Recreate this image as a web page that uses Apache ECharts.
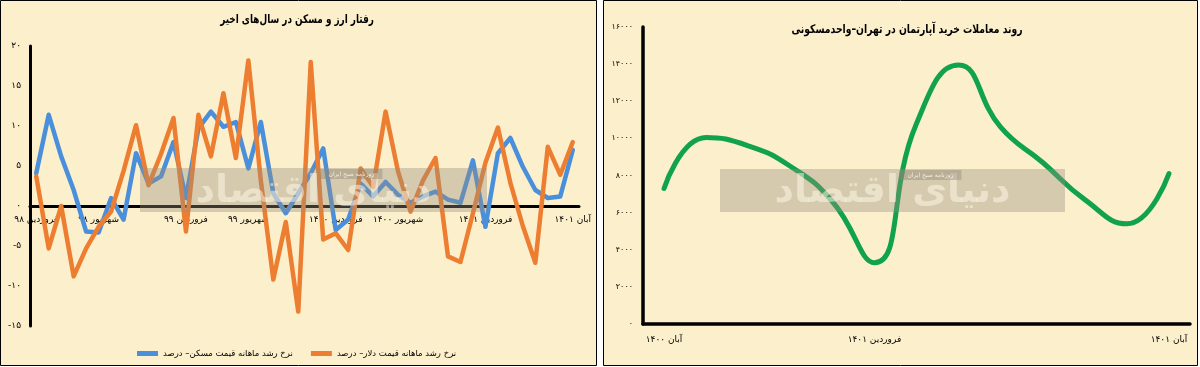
<!DOCTYPE html>
<html><head><meta charset="utf-8">
<script src="https://cdn.jsdelivr.net/npm/echarts@6/dist/echarts.min.js"></script>
<style>html,body{margin:0;padding:0;background:#fff}#c{width:1200px;height:367px}</style>
</head><body><div id="c"></div>
<script>
// ---------- Left chart data ----------
const leftCategories = [
  'فروردین ۹۸','اردیبهشت ۹۸','خرداد ۹۸','تیر ۹۸','مرداد ۹۸','شهریور ۹۸','مهر ۹۸','آبان ۹۸','آذر ۹۸','دی ۹۸','بهمن ۹۸','اسفند ۹۸',
  'فروردین ۹۹','اردیبهشت ۹۹','خرداد ۹۹','تیر ۹۹','مرداد ۹۹','شهریور ۹۹','مهر ۹۹','آبان ۹۹','آذر ۹۹','دی ۹۹','بهمن ۹۹','اسفند ۹۹',
  'فروردین ۱۴۰۰','اردیبهشت ۱۴۰۰','خرداد ۱۴۰۰','تیر ۱۴۰۰','مرداد ۱۴۰۰','شهریور ۱۴۰۰','مهر ۱۴۰۰','آبان ۱۴۰۰','آذر ۱۴۰۰','دی ۱۴۰۰','بهمن ۱۴۰۰','اسفند ۱۴۰۰',
  'فروردین ۱۴۰۱','اردیبهشت ۱۴۰۱','خرداد ۱۴۰۱','تیر ۱۴۰۱','مرداد ۱۴۰۱','شهریور ۱۴۰۱','مهر ۱۴۰۱','آبان ۱۴۰۱'
];
const housingGrowth = [
  4.1, 11.4, 6.2, 2.0, -3.2, -3.3, 1.0, -1.7, 6.6, 2.8, 3.7, 8.0,
  1.0, 9.7, 11.8, 9.9, 10.5, 4.7, 10.5, 1.6, -0.9, 1.6, 4.1, 7.2,
  -3.0, -1.7, 2.8, 1.2, 3.0, 1.4, 0.4, 1.2, 1.8, 0.8, 0.4, 5.7,
  -2.6, 6.6, 8.5, 4.9, 2.0, 1.0, 1.2, 7.0
];
const dollarGrowth = [
  3.7, -5.3, 0.0, -8.8, -5.3, -2.6, -0.7, 4.4, 10.1, 2.6, 6.5, 11.0,
  -3.2, 11.4, 6.2, 14.1, 6.0, 18.2, 3.2, -9.2, -2.0, -13.2, 18.0, -4.2,
  -3.4, -5.5, 4.7, 2.4, 11.8, 4.3, -0.7, 3.2, 6.0, -6.3, -7.0, -0.9,
  5.4, 9.8, 2.9, -2.5, -7.1, 7.4, 3.9, 8.0
];
const leftLabelIdx = [0, 5, 12, 17, 24, 29, 36, 43];
const leftYTicks = [-15, -10, -5, 0, 5, 10, 15, 20];
const leftYTickLabels = ['-۱۵', '-۱۰', '-۵', '۰', '۵', '۱۰', '۱۵', '۲۰'];
const housingName = 'نرخ رشد ماهانه قیمت مسکن– درصد';
const dollarName = 'نرخ رشد ماهانه قیمت دلار– درصد';
const leftTitle = 'رفتار ارز و مسکن در سال‌های اخیر';

// ---------- Right chart data ----------
const rightCategories = [
  'آبان ۱۴۰۰','آذر ۱۴۰۰','دی ۱۴۰۰','بهمن ۱۴۰۰','اسفند ۱۴۰۰',
  'فروردین ۱۴۰۱','اردیبهشت ۱۴۰۱','خرداد ۱۴۰۱','تیر ۱۴۰۱','مرداد ۱۴۰۱','شهریور ۱۴۰۱','مهر ۱۴۰۱','آبان ۱۴۰۱'
];
const transactions = [7300, 10050, 9600, 8500, 6600, 3300, 10800, 13950, 10600, 8700, 6700, 5400, 8100];
const rightLabelIdx = [0, 5, 12];
const rightYTicks = [0, 2000, 4000, 6000, 8000, 10000, 12000, 14000, 16000];
const rightYTickLabels = ['۰', '۲۰۰۰', '۴۰۰۰', '۶۰۰۰', '۸۰۰۰', '۱۰۰۰۰', '۱۲۰۰۰', '۱۴۰۰۰', '۱۶۰۰۰'];
const rightTitle = 'روند معاملات خرید آپارتمان در تهران–واحدمسکونی';
const watermarkText = 'دنیای اقتصاد';
const watermarkSub = 'روزنامه صبح ایران';

// ---------- Styles ----------
const FONT = '"DejaVu Sans", sans-serif';
const CREAM = '#FCEFCB';
const BLUE = '#4A8FDB';
const ORANGE = '#ED7D31';
const GREEN = '#11A24E';

function watermark(x, y, w, h) {
  return [
    { type: 'rect', z: 50, shape: { x: x, y: y, width: w, height: h }, style: { fill: 'rgba(150,143,125,0.38)' } },
    { type: 'text', z: 51, x: x + w / 2, y: y + h / 2 + 2,
      style: { text: watermarkText, font: 'bold 38px ' + FONT, fill: 'rgba(255,249,232,0.5)', align: 'center', verticalAlign: 'middle' } },
    { type: 'rect', z: 51, shape: { x: x + w * 0.52, y: y + 1, width: 62, height: 10 }, style: { fill: 'rgba(140,133,115,0.4)' } },
    { type: 'text', z: 52, x: x + w * 0.52 + 31, y: y + 6,
      style: { text: watermarkSub, font: '6px ' + FONT, fill: 'rgba(255,249,232,0.85)', align: 'center', verticalAlign: 'middle' } }
  ];
}

const chart = echarts.init(document.getElementById('c'), null, { renderer: 'canvas' });
chart.setOption({
  animation: false,
  backgroundColor: '#ffffff',
  graphic: [
    { type: 'rect', z: -10, shape: { x: 0.5, y: 0.5, width: 596, height: 365 }, style: { fill: CREAM, stroke: '#000', lineWidth: 1 } },
    { type: 'rect', z: -10, shape: { x: 603.5, y: 0.5, width: 594, height: 365 }, style: { fill: CREAM, stroke: '#000', lineWidth: 1 } },
    { type: 'text', z: 5, x: 297, y: 20, scaleX: 0.74, style: { text: leftTitle, font: 'bold 12px ' + FONT, fill: '#000', align: 'center', verticalAlign: 'middle' } },
    { type: 'text', z: 5, x: 907, y: 30, scaleX: 0.77, style: { text: rightTitle, font: 'bold 12px ' + FONT, fill: '#000', align: 'center', verticalAlign: 'middle' } }
  ].concat(watermark(140, 168, 347, 44)).concat(watermark(720, 169, 345, 43)),
  legend: {
    data: [housingName, dollarName],
    left: 132, top: 344,
    itemWidth: 21, itemHeight: 5, itemGap: 18, icon: 'rect',
    textStyle: { fontSize: 8.5, fontFamily: FONT, color: '#000' }
  },
  grid: [
    { left: 30, top: 46, width: 549, height: 280, containLabel: false },
    { left: 643, top: 27, width: 547, height: 297, containLabel: false }
  ],
  xAxis: [
    {
      type: 'category', gridIndex: 0, data: leftCategories, boundaryGap: true,
      position: 'bottom', offset: -120,
      axisLine: { onZero: false, lineStyle: { color: '#000', width: 3 } },
      axisTick: { show: false }, splitLine: { show: false },
      axisLabel: { interval: (i) => leftLabelIdx.includes(i), fontSize: 9, fontFamily: FONT, color: '#000', margin: 9 }
    },
    {
      type: 'category', gridIndex: 1, data: rightCategories, boundaryGap: true,
      axisLine: { onZero: false, lineStyle: { color: '#000', width: 3.5 } },
      axisTick: { show: false }, splitLine: { show: false },
      axisLabel: { interval: (i) => rightLabelIdx.includes(i), fontSize: 9, fontFamily: FONT, color: '#000', margin: 11 }
    }
  ],
  yAxis: [
    {
      type: 'value', gridIndex: 0, min: -15, max: 20, interval: 5,
      axisLine: { show: true, lineStyle: { color: '#000', width: 3 } },
      axisTick: { show: false }, splitLine: { show: false },
      axisLabel: { formatter: (v) => leftYTickLabels[leftYTicks.indexOf(v)], fontSize: 9, fontFamily: FONT, color: '#000', margin: 9 }
    },
    {
      type: 'value', gridIndex: 1, min: 0, max: 16000, interval: 2000,
      axisLine: { show: true, lineStyle: { color: '#000', width: 3.5 } },
      axisTick: { show: false }, splitLine: { show: false },
      axisLabel: { formatter: (v) => rightYTickLabels[rightYTicks.indexOf(v)], fontSize: 8, fontFamily: FONT, color: '#000', margin: 10 }
    }
  ],
  series: [
    {
      name: housingName, type: 'line', xAxisIndex: 0, yAxisIndex: 0, data: housingGrowth,
      symbol: 'none', itemStyle: { color: BLUE },
      lineStyle: { color: BLUE, width: 4.5, cap: 'round', join: 'round' }, z: 3
    },
    {
      name: dollarName, type: 'line', xAxisIndex: 0, yAxisIndex: 0, data: dollarGrowth,
      symbol: 'none', itemStyle: { color: ORANGE },
      lineStyle: { color: ORANGE, width: 4.5, cap: 'round', join: 'round' }, z: 4
    },
    {
      name: 'transactions', type: 'line', xAxisIndex: 1, yAxisIndex: 1, data: transactions,
      smooth: 0.5, symbol: 'none', itemStyle: { color: GREEN },
      lineStyle: { color: GREEN, width: 5, cap: 'round', join: 'round' }, z: 3
    }
  ]
});
</script>
</body></html>
